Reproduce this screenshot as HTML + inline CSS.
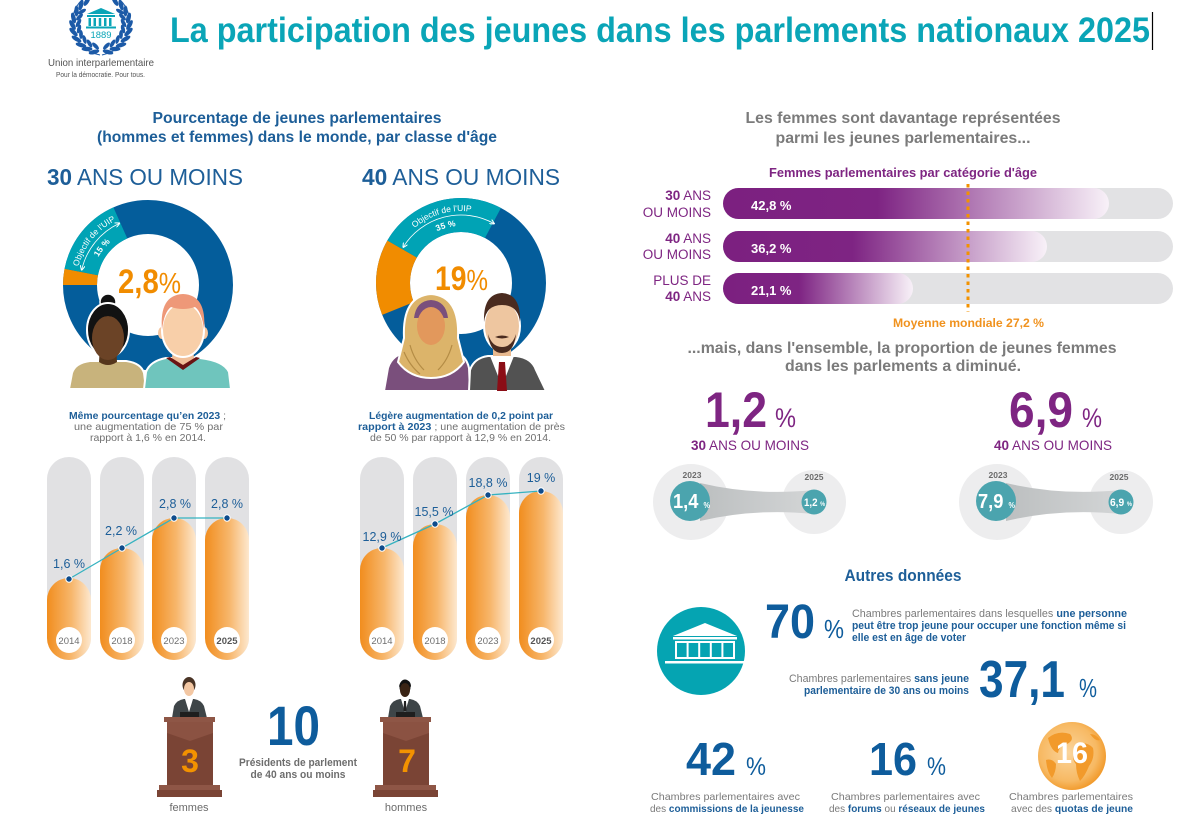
<!DOCTYPE html>
<html><head><meta charset="utf-8"><style>
html,body{margin:0;padding:0;background:#fff;}
svg{display:block;}
text{font-family:"Liberation Sans",Arial,sans-serif;}
</style></head><body>
<svg width="1200" height="831" viewBox="0 0 1200 831" xmlns="http://www.w3.org/2000/svg">
<defs>
 <linearGradient id="og" x1="0" x2="1" y1="0" y2="0"><stop offset="0" stop-color="#f18d1e"/><stop offset="0.55" stop-color="#f7b66b"/><stop offset="1" stop-color="#fde8cf"/></linearGradient>
 <linearGradient id="pg" x1="0" x2="1" y1="0" y2="0"><stop offset="0" stop-color="#7c2080"/><stop offset="0.4" stop-color="#7e2483"/><stop offset="1" stop-color="#f8f1f8"/></linearGradient>
 <linearGradient id="bandg" x1="0" x2="1" y1="0" y2="0"><stop offset="0" stop-color="#bcbfc0"/><stop offset="1" stop-color="#d3d5d6"/></linearGradient>
 <radialGradient id="gg" cx="0.45" cy="0.45" r="0.6"><stop offset="0" stop-color="#fbd59c"/><stop offset="0.7" stop-color="#f7b963"/><stop offset="1" stop-color="#f0931f"/></radialGradient>
 <marker id="ar" viewBox="0 0 6 6" refX="5" refY="3" markerUnits="userSpaceOnUse" markerWidth="5" markerHeight="5" orient="auto-start-reverse"><path d="M0,0 L6,3 L0,6" fill="none" stroke="#fff" stroke-width="1.2"/></marker>
 <path id="t1" d="M76.70,274.98 A72,72 0 0 1 123.38,217.34" fill="none"/>
 <path id="t2" d="M94.44,265.51 A57,57 0 0 1 117.80,236.66" fill="none"/>
 <path id="t3" d="M405.85,236.72 A72,72 0 0 1 483.25,214.52" fill="none"/>
 <path id="t4" d="M432.5,233.64 A57,57 0 0 1 461,226" fill="none"/>
 <g id="leaves" fill="#1c5aa7">
  <ellipse cx="94" cy="52" rx="5.5" ry="2.2" transform="rotate(165 94 52)"/>
  <ellipse cx="87" cy="49" rx="5.5" ry="2.2" transform="rotate(180 87 49)"/>
  <ellipse cx="81" cy="45" rx="5.5" ry="2.2" transform="rotate(195 81 45)"/>
  <ellipse cx="76.5" cy="39" rx="5.5" ry="2.2" transform="rotate(210 76.5 39)"/>
  <ellipse cx="73.5" cy="32" rx="5.5" ry="2.2" transform="rotate(225 73.5 32)"/>
  <ellipse cx="72.5" cy="25" rx="5.5" ry="2.2" transform="rotate(240 72.5 25)"/>
  <ellipse cx="73.5" cy="18" rx="5.5" ry="2.2" transform="rotate(255 73.5 18)"/>
  <ellipse cx="76.5" cy="11" rx="5.5" ry="2.2" transform="rotate(270 76.5 11)"/>
  <ellipse cx="81" cy="5" rx="5.5" ry="2.2" transform="rotate(285 81 5)"/>
  <ellipse cx="87" cy="1" rx="5.5" ry="2.2" transform="rotate(300 87 1)"/>
  <ellipse cx="95.5" cy="46" rx="4.5" ry="1.9" transform="rotate(225 95.5 46)"/>
  <ellipse cx="89.5" cy="43.5" rx="4.5" ry="1.9" transform="rotate(240 89.5 43.5)"/>
  <ellipse cx="84.5" cy="39.5" rx="4.5" ry="1.9" transform="rotate(255 84.5 39.5)"/>
  <ellipse cx="81" cy="34.5" rx="4.5" ry="1.9" transform="rotate(270 81 34.5)"/>
  <ellipse cx="79" cy="29" rx="4.5" ry="1.9" transform="rotate(285 79 29)"/>
  <ellipse cx="78.5" cy="23" rx="4.5" ry="1.9" transform="rotate(300 78.5 23)"/>
  <ellipse cx="79.5" cy="17" rx="4.5" ry="1.9" transform="rotate(315 79.5 17)"/>
  <ellipse cx="82" cy="11.5" rx="4.5" ry="1.9" transform="rotate(330 82 11.5)"/>
  <path d="M100,55 Q76,50 72,25 Q72,8 84,-2" fill="none" stroke="#1c5aa7" stroke-width="1"/>
 </g>
</defs>

<!-- Title -->
<text x="170" y="42" font-size="35" font-weight="bold" fill="#0aa5b7" textLength="980" lengthAdjust="spacingAndGlyphs">La participation des jeunes dans les parlements nationaux 2025</text>
<line x1="1152.5" y1="12" x2="1152.5" y2="50" stroke="#000" stroke-width="1.2"/>

<!-- Logo -->
<use href="#leaves"/>
<use href="#leaves" transform="translate(202,0) scale(-1,1)"/>
<g fill="#0aa5b7">
 <path d="M87,14 L101,8 L115,14 Z"/>
 <rect x="87" y="15" width="28" height="2"/>
 <rect x="88.5" y="18" width="2.5" height="8"/><rect x="93.5" y="18" width="2.5" height="8"/><rect x="98.75" y="18" width="2.5" height="8"/><rect x="104" y="18" width="2.5" height="8"/><rect x="109" y="18" width="2.5" height="8"/>
 <rect x="86" y="26.5" width="30" height="2"/>
</g>
<text x="101" y="38" text-anchor="middle" font-size="9" fill="#0aa5b7" textLength="21" lengthAdjust="spacingAndGlyphs">1889</text>
<text x="48" y="66" font-size="10.5" fill="#555" textLength="106" lengthAdjust="spacingAndGlyphs">Union interparlementaire</text>
<text x="56" y="77" font-size="7" fill="#555" textLength="89" lengthAdjust="spacingAndGlyphs">Pour la démocratie. Pour tous.</text>

<!-- Left subtitle -->
<text x="297" y="123" text-anchor="middle" font-size="16" font-weight="bold" fill="#1d5e98" textLength="289" lengthAdjust="spacingAndGlyphs">Pourcentage de jeunes parlementaires</text>
<text x="297" y="142" text-anchor="middle" font-size="16" font-weight="bold" fill="#1d5e98" textLength="400" lengthAdjust="spacingAndGlyphs">(hommes et femmes) dans le monde, par classe d'âge</text>

<text x="47" y="185" font-size="23" fill="#1d5e98" textLength="196" lengthAdjust="spacingAndGlyphs"><tspan font-weight="bold">30</tspan> ANS OU MOINS</text>
<text x="362" y="185" font-size="23" fill="#1d5e98" textLength="198" lengthAdjust="spacingAndGlyphs"><tspan font-weight="bold">40</tspan> ANS OU MOINS</text>

<!-- Donut 1 -->
<circle cx="148" cy="285" r="68" fill="none" stroke="#045d9b" stroke-width="34"/>
<path d="M80,285 A68,68 0 0 1 81.25,272.03" stroke="#f18c00" stroke-width="34" fill="none"/>
<path d="M81.25,272.03 A68,68 0 0 1 120.34,222.88" stroke="#00a3b5" stroke-width="34" fill="none"/>
<text font-size="8.5" fill="#fff"><textPath href="#t1" startOffset="50%" text-anchor="middle">Objectif de l'UIP</textPath></text>
<text font-size="8.5" fill="#fff" font-weight="bold"><textPath href="#t2" startOffset="50%" text-anchor="middle">15 %</textPath></text>
<path d="M81.74,269.70 A68,68 0 0 1 119.26,223.37" fill="none" stroke="#fff" stroke-width="0.8" marker-start="url(#ar)" marker-end="url(#ar)"/>
<text x="118" y="293" font-size="34" font-weight="bold" fill="#f18c00" textLength="63" lengthAdjust="spacingAndGlyphs">2,8<tspan font-weight="normal" font-size="29">%</tspan></text>

<!-- Donut 1 people -->
<path d="M69,389 L72,373 Q75,363 90,361 L126,361 Q141,363 144,373 L146,389 Z" fill="#c8b37c" stroke="#fff" stroke-width="2"/>
<path d="M100,345 L116,345 L117,362 Q108,368 99,362 Z" fill="#55361c"/>
<circle cx="108" cy="302" r="8" fill="#121212" stroke="#fff" stroke-width="1.5"/>
<ellipse cx="108" cy="330" rx="21" ry="27" fill="#121212" stroke="#fff" stroke-width="2"/>
<ellipse cx="108" cy="338" rx="16" ry="22" fill="#6b4326"/>
<path d="M88,330 Q89,308 108,307 Q127,308 128,330 Q124,317 108,316 Q92,317 88,330 Z" fill="#121212"/>

<path d="M144,389 L146,372 Q150,361 166,358 L200,358 Q224,361 229,372 L231,389 Z" fill="#6fc5bd" stroke="#fff" stroke-width="2"/>
<path d="M173,345 L193,345 L194,359 L183,366 L172,359 Z" fill="#f1c09a"/>
<path d="M166,358 L183,370 L200,358 L196,357 L183,365 L170,357 Z" fill="#6a1414"/>
<ellipse cx="162" cy="333" rx="4" ry="6" fill="#f5c6a0"/>
<ellipse cx="204" cy="333" rx="4" ry="6" fill="#f5c6a0"/>
<ellipse cx="183" cy="330" rx="21" ry="27" fill="#f8cfa9" stroke="#fff" stroke-width="2"/>
<path d="M162,330 Q159,295 183,294 Q207,295 204,330 Q202,312 195,307 Q183,311 171,307 Q164,312 162,330 Z" fill="#ee9878"/>

<!-- Donut 2 -->
<circle cx="461" cy="283" r="68" fill="none" stroke="#045d9b" stroke-width="34"/>
<path d="M397.95,308.47 A68,68 0 0 1 402.11,249" stroke="#f18c00" stroke-width="34" fill="none"/>
<path d="M402.11,249 A68,68 0 0 1 492.93,222.96" stroke="#00a3b5" stroke-width="34" fill="none"/>
<text font-size="8.5" fill="#fff"><textPath href="#t3" startOffset="50%" text-anchor="middle">Objectif de l'UIP</textPath></text>
<text font-size="8.5" fill="#fff" font-weight="bold"><textPath href="#t4" startOffset="50%" text-anchor="middle">35 %</textPath></text>
<path d="M403.34,246.97 A68,68 0 0 1 493.97,223.53" fill="none" stroke="#fff" stroke-width="0.8" marker-start="url(#ar)" marker-end="url(#ar)"/>
<text x="435" y="290" font-size="34" font-weight="bold" fill="#f18c00" textLength="53" lengthAdjust="spacingAndGlyphs">19<tspan font-weight="normal" font-size="29">%</tspan></text>

<!-- Donut 2 people -->
<path d="M384,391 L388,368 Q392,354 410,351 L452,351 Q466,354 469,368 L470,391 Z" fill="#7a4f7c" stroke="#fff" stroke-width="2"/>
<path d="M404,338 Q402,296 431,294 Q460,296 458,338 L464,362 Q452,378 431,378 Q410,378 398,362 Z" fill="#dcb46a" stroke="#fff" stroke-width="2"/>
<path d="M410,345 Q414,360 424,370 M452,345 Q448,360 438,370 M404,352 Q410,366 420,374" fill="none" stroke="#b48c45" stroke-width="1.2"/>
<path d="M414,318 Q416,301 431,300 Q446,301 448,318 Z" fill="#7a4f7c"/>
<ellipse cx="431" cy="326" rx="14" ry="19" fill="#e2985c"/>

<path d="M469,391 L470,370 Q474,358 488,356 L516,356 Q532,358 536,370 L546,391 Z" fill="#525252" stroke="#fff" stroke-width="2"/>
<rect x="493" y="343" width="18" height="15" fill="#e8b98f"/>
<path d="M490,356 L502,386 L514,356 Z" fill="#fff"/>
<path d="M499,362 L505,362 L507,391 L497,391 Z" fill="#8b0d16"/>
<ellipse cx="502" cy="326" rx="18" ry="25" fill="#eec6a0" stroke="#fff" stroke-width="2"/>
<path d="M484,322 Q483,294 502,293 Q521,294 520,322 Q518,305 502,305 Q486,305 484,322 Z" fill="#4a2b1f"/>
<path d="M488,334 Q490,353 502,353 Q514,353 516,334 Q512,347 502,347 Q492,347 488,334 Z" fill="#4a2b1f"/>
<path d="M495,337 Q502,334 509,337 Q502,340 495,337 Z" fill="#4a2b1f"/>

<!-- Text above left bars -->
<text x="69" y="419" font-size="10.5" font-weight="bold" fill="#1d5e98" textLength="157" lengthAdjust="spacingAndGlyphs">Même pourcentage qu’en 2023<tspan font-weight="normal" fill="#6f6f6f"> ;</tspan></text>
<text x="74" y="430" font-size="10.5" fill="#6f6f6f" textLength="149" lengthAdjust="spacingAndGlyphs">une augmentation de 75 % par</text>
<text x="90" y="441" font-size="10.5" fill="#6f6f6f" textLength="116" lengthAdjust="spacingAndGlyphs">rapport à 1,6 % en 2014.</text>

<text x="369" y="419" font-size="10.5" font-weight="bold" fill="#1d5e98" textLength="184" lengthAdjust="spacingAndGlyphs">Légère augmentation de 0,2 point par</text>
<text x="358" y="430" font-size="10.5" fill="#6f6f6f" textLength="207" lengthAdjust="spacingAndGlyphs"><tspan font-weight="bold" fill="#1d5e98">rapport à 2023</tspan> ; une augmentation de près</text>
<text x="370" y="441" font-size="10.5" fill="#6f6f6f" textLength="181" lengthAdjust="spacingAndGlyphs">de 50 % par rapport à 12,9 % en 2014.</text>

<!-- Left bars -->
<g fill="#e1e1e3">
 <rect x="47" y="457" width="44" height="203" rx="22"/>
 <rect x="100" y="457" width="44" height="203" rx="22"/>
 <rect x="152" y="457" width="44" height="203" rx="22"/>
 <rect x="205" y="457" width="44" height="203" rx="22"/>
 <rect x="360" y="457" width="44" height="203" rx="22"/>
 <rect x="413" y="457" width="44" height="203" rx="22"/>
 <rect x="466" y="457" width="44" height="203" rx="22"/>
 <rect x="519" y="457" width="44" height="203" rx="22"/>
</g>
<g fill="url(#og)">
 <rect x="47" y="578" width="44" height="82" rx="22"/>
 <rect x="100" y="548" width="44" height="112" rx="22"/>
 <rect x="152" y="518" width="44" height="142" rx="22"/>
 <rect x="205" y="518" width="44" height="142" rx="22"/>
 <rect x="360" y="548" width="44" height="112" rx="22"/>
 <rect x="413" y="524" width="44" height="136" rx="22"/>
 <rect x="466" y="495" width="44" height="165" rx="22"/>
 <rect x="519" y="491" width="44" height="169" rx="22"/>
</g>
<polyline points="69,579 122,548 174,518 227,518" fill="none" stroke="#35b2c0" stroke-width="1.3"/>
<polyline points="382,548 435,524 488,495 541,491" fill="none" stroke="#35b2c0" stroke-width="1.3"/>
<g fill="#0e4c8c" stroke="#fff" stroke-width="1">
 <circle cx="69" cy="579" r="3.2"/><circle cx="122" cy="548" r="3.2"/><circle cx="174" cy="518" r="3.2"/><circle cx="227" cy="518" r="3.2"/>
 <circle cx="382" cy="548" r="3.2"/><circle cx="435" cy="524" r="3.2"/><circle cx="488" cy="495" r="3.2"/><circle cx="541" cy="491" r="3.2"/>
</g>
<g font-size="12.5" fill="#1d5e98" text-anchor="middle">
 <text x="69" y="568">1,6 %</text>
 <text x="121" y="535">2,2 %</text>
 <text x="175" y="508">2,8 %</text>
 <text x="227" y="508">2,8 %</text>
 <text x="382" y="541">12,9 %</text>
 <text x="434" y="516">15,5 %</text>
 <text x="488" y="487">18,8 %</text>
 <text x="541" y="482">19 %</text>
</g>
<g fill="#fff">
 <circle cx="69" cy="640" r="13"/><circle cx="122" cy="640" r="13"/><circle cx="174" cy="640" r="13"/><circle cx="227" cy="640" r="13"/>
 <circle cx="382" cy="640" r="13"/><circle cx="435" cy="640" r="13"/><circle cx="488" cy="640" r="13"/><circle cx="541" cy="640" r="13"/>
</g>
<g font-size="9.5" fill="#6f6f6f" text-anchor="middle">
 <text x="69" y="644">2014</text><text x="122" y="644">2018</text><text x="174" y="644">2023</text><text x="227" y="644" font-weight="bold" fill="#555">2025</text>
 <text x="382" y="644">2014</text><text x="435" y="644">2018</text><text x="488" y="644">2023</text><text x="541" y="644" font-weight="bold" fill="#555">2025</text>
</g>

<!-- Podiums -->
<g id="pod1">
 <ellipse cx="189" cy="685" rx="6.5" ry="8" fill="#4a3426"/>
 <ellipse cx="189" cy="689" rx="5" ry="7" fill="#f3c7a3"/>
 <path d="M183,686 Q184,678 189,678 Q195,678 195,686 Q192,681 189,681 Q186,681 183,686 Z" fill="#4a3426"/>
 <path d="M172,718 L174,706 Q177,700 184,699 L194,699 Q201,700 204,706 L207,718 Z" fill="#3e4548"/>
 <path d="M185,699 L189,712 L193,699 Z" fill="#fff"/>
 <rect x="180" y="712" width="19" height="5" fill="#1e1e1e"/>
 <rect x="164" y="717" width="51" height="5" fill="#8e5646"/>
 <rect x="167" y="722" width="46" height="63" fill="#7a4435"/>
 <path d="M167,722 L213,722 L213,733 L190,741 L167,733 Z" fill="#8b5242"/>
 <rect x="159" y="785" width="61" height="5" fill="#8e5646"/>
 <rect x="157" y="790" width="65" height="7" fill="#7a4435"/>
</g>
<text x="190" y="772" text-anchor="middle" font-size="32" font-weight="bold" fill="#f39200">3</text>
<text x="189" y="811" text-anchor="middle" font-size="11" fill="#6b6b6b">femmes</text>

<g>
 <ellipse cx="405" cy="687" rx="5.5" ry="7.5" fill="#111"/>
 <ellipse cx="405" cy="690" rx="5" ry="7" fill="#3a2415"/>
 <path d="M399,687 Q400,680 405,680 Q411,680 411,687 Q408,683 405,683 Q402,683 399,687 Z" fill="#111"/>
 <path d="M388,718 L390,706 Q393,700 400,699 L410,699 Q417,700 420,706 L423,718 Z" fill="#3e4548"/>
 <path d="M401,699 L405,712 L409,699 Z" fill="#fff"/>
 <path d="M404,701 L406,701 L406.5,711 L403.5,711 Z" fill="#222"/>
 <rect x="396" y="712" width="19" height="5" fill="#1e1e1e"/>
 <rect x="380" y="717" width="51" height="5" fill="#8e5646"/>
 <rect x="383" y="722" width="46" height="63" fill="#7a4435"/>
 <path d="M383,722 L429,722 L429,733 L406,741 L383,733 Z" fill="#8b5242"/>
 <rect x="375" y="785" width="61" height="5" fill="#8e5646"/>
 <rect x="373" y="790" width="65" height="7" fill="#7a4435"/>
</g>
<text x="407" y="772" text-anchor="middle" font-size="32" font-weight="bold" fill="#f39200">7</text>
<text x="406" y="811" text-anchor="middle" font-size="11" fill="#6b6b6b">hommes</text>

<text x="267" y="745" font-size="56" font-weight="bold" fill="#0e5c9c" textLength="53" lengthAdjust="spacingAndGlyphs">10</text>
<text x="298" y="766" text-anchor="middle" font-size="11" font-weight="bold" fill="#6d6d6d" textLength="118" lengthAdjust="spacingAndGlyphs">Présidents de parlement</text>
<text x="298" y="778" text-anchor="middle" font-size="11" font-weight="bold" fill="#6d6d6d" textLength="95" lengthAdjust="spacingAndGlyphs">de 40 ans ou moins</text>

<!-- Right side heading -->
<text x="903" y="123" text-anchor="middle" font-size="16" font-weight="bold" fill="#7b7b7b" textLength="315" lengthAdjust="spacingAndGlyphs">Les femmes sont davantage représentées</text>
<text x="903" y="143" text-anchor="middle" font-size="16" font-weight="bold" fill="#7b7b7b" textLength="255" lengthAdjust="spacingAndGlyphs">parmi les jeunes parlementaires...</text>
<text x="903" y="177" text-anchor="middle" font-size="12.5" font-weight="bold" fill="#7e2582" textLength="268" lengthAdjust="spacingAndGlyphs">Femmes parlementaires par catégorie d'âge</text>

<g fill="#e2e2e4">
 <rect x="723" y="188" width="450" height="31" rx="15.5"/>
 <rect x="723" y="231" width="450" height="31" rx="15.5"/>
 <rect x="723" y="273" width="450" height="31" rx="15.5"/>
</g>
<rect x="723" y="188" width="386" height="31" rx="15.5" fill="url(#pg)"/>
<rect x="723" y="231" width="324" height="31" rx="15.5" fill="url(#pg)"/>
<rect x="723" y="273" width="190" height="31" rx="15.5" fill="url(#pg)"/>
<g font-size="13" font-weight="bold" fill="#fff">
 <text x="751" y="210">42,8 %</text>
 <text x="751" y="253">36,2 %</text>
 <text x="751" y="295">21,1 %</text>
</g>
<g font-size="13.5" fill="#7e2582" text-anchor="end">
 <text x="711" y="200"><tspan font-weight="bold">30</tspan> ANS</text>
 <text x="711" y="217">OU MOINS</text>
 <text x="711" y="243"><tspan font-weight="bold">40</tspan> ANS</text>
 <text x="711" y="259">OU MOINS</text>
 <text x="711" y="285">PLUS DE</text>
 <text x="711" y="301"><tspan font-weight="bold">40</tspan> ANS</text>
</g>
<line x1="968" y1="184" x2="968" y2="312" stroke="#f39200" stroke-width="3" stroke-dasharray="3.5 4"/>
<text x="893" y="327" font-size="12" font-weight="bold" fill="#f0921e" textLength="151" lengthAdjust="spacingAndGlyphs">Moyenne mondiale 27,2 %</text>

<text x="902" y="353" text-anchor="middle" font-size="16" font-weight="bold" fill="#7b7b7b" textLength="429" lengthAdjust="spacingAndGlyphs">...mais, dans l'ensemble, la proportion de jeunes femmes</text>
<text x="903" y="371" text-anchor="middle" font-size="16" font-weight="bold" fill="#7b7b7b" textLength="236" lengthAdjust="spacingAndGlyphs">dans les parlements a diminué.</text>

<text x="705" y="427" font-size="50" font-weight="bold" fill="#7e2582" textLength="62" lengthAdjust="spacingAndGlyphs">1,2</text>
<text x="775" y="427" font-size="27" fill="#7e2582" textLength="21" lengthAdjust="spacingAndGlyphs">%</text>
<text x="691" y="450" font-size="14" fill="#7e2582" textLength="118" lengthAdjust="spacingAndGlyphs"><tspan font-weight="bold">30</tspan> ANS OU MOINS</text>
<text x="1009" y="427" font-size="50" font-weight="bold" fill="#7e2582" textLength="64" lengthAdjust="spacingAndGlyphs">6,9</text>
<text x="1082" y="427" font-size="27" fill="#7e2582" textLength="20" lengthAdjust="spacingAndGlyphs">%</text>
<text x="994" y="450" font-size="14" fill="#7e2582" textLength="118" lengthAdjust="spacingAndGlyphs"><tspan font-weight="bold">40</tspan> ANS OU MOINS</text>

<!-- Bubbles -->
<g fill="#ededee">
 <circle cx="691" cy="502" r="38"/><circle cx="814" cy="502" r="32"/>
 <circle cx="997" cy="502" r="38"/><circle cx="1121" cy="502" r="32"/>
</g>
<path d="M700,483 Q755,496 814,490 L814,514 Q755,508 700,521 Z" fill="url(#bandg)"/>
<path d="M1006,483 Q1061,496 1121,490 L1121,514 Q1061,508 1006,521 Z" fill="url(#bandg)"/>
<g fill="#4ba4ae">
 <circle cx="690" cy="501" r="20"/><circle cx="814" cy="502" r="12.5"/>
 <circle cx="996" cy="501" r="20"/><circle cx="1121" cy="502" r="12.5"/>
</g>
<g font-size="8.5" font-weight="bold" fill="#6b6b6b" text-anchor="middle">
 <text x="692" y="478">2023</text><text x="814" y="480">2025</text>
 <text x="998" y="478">2023</text><text x="1119" y="480">2025</text>
</g>
<text x="673" y="508" font-size="20" font-weight="bold" fill="#fff" textLength="37" lengthAdjust="spacingAndGlyphs">1,4 <tspan font-size="8">%</tspan></text>
<text x="804" y="506" font-size="11" font-weight="bold" fill="#fff" textLength="21" lengthAdjust="spacingAndGlyphs">1,2 <tspan font-size="6">%</tspan></text>
<text x="978" y="508" font-size="20" font-weight="bold" fill="#fff" textLength="37" lengthAdjust="spacingAndGlyphs">7,9 <tspan font-size="8">%</tspan></text>
<text x="1110" y="506" font-size="11" font-weight="bold" fill="#fff" textLength="22" lengthAdjust="spacingAndGlyphs">6,9 <tspan font-size="6">%</tspan></text>

<!-- Autres données -->
<text x="903" y="581" text-anchor="middle" font-size="17" font-weight="bold" fill="#1d5e98" textLength="117" lengthAdjust="spacingAndGlyphs">Autres données</text>
<circle cx="701" cy="651" r="44" fill="#05a4b2"/>
<g fill="#fff">
 <path d="M673,636 L705,623 L737,636 Z"/>
 <rect x="673" y="637" width="64" height="2.5"/>
 <rect x="665" y="661" width="80" height="2.5"/>
</g>
<g fill="none" stroke="#fff" stroke-width="2">
 <rect x="676" y="642" width="58" height="16"/>
 <line x1="687.6" y1="642" x2="687.6" y2="658"/><line x1="699.2" y1="642" x2="699.2" y2="658"/><line x1="710.8" y1="642" x2="710.8" y2="658"/><line x1="722.4" y1="642" x2="722.4" y2="658"/>
</g>

<text x="765" y="638" font-size="48" font-weight="bold" fill="#0e5c9c" textLength="50" lengthAdjust="spacingAndGlyphs">70</text>
<text x="824" y="638" font-size="26" fill="#0e5c9c" textLength="20" lengthAdjust="spacingAndGlyphs">%</text>
<text x="852" y="617" font-size="11" fill="#7a7a7a" textLength="275" lengthAdjust="spacingAndGlyphs">Chambres parlementaires dans lesquelles <tspan font-weight="bold" fill="#1d5e98">une personne</tspan></text>
<text x="852" y="629" font-size="11" font-weight="bold" fill="#1d5e98" textLength="274" lengthAdjust="spacingAndGlyphs">peut être trop jeune pour occuper une fonction même si</text>
<text x="852" y="641" font-size="11" font-weight="bold" fill="#1d5e98" textLength="114" lengthAdjust="spacingAndGlyphs">elle est en âge de voter</text>

<text x="789" y="682" font-size="11" fill="#7a7a7a" textLength="180" lengthAdjust="spacingAndGlyphs">Chambres parlementaires <tspan font-weight="bold" fill="#1d5e98">sans jeune</tspan></text>
<text x="804" y="694" font-size="11" font-weight="bold" fill="#1d5e98" textLength="165" lengthAdjust="spacingAndGlyphs">parlementaire de 30 ans ou moins</text>
<text x="979" y="697" font-size="52" font-weight="bold" fill="#0e5c9c" textLength="86" lengthAdjust="spacingAndGlyphs">37,1</text>
<text x="1079" y="697" font-size="26" fill="#0e5c9c" textLength="18" lengthAdjust="spacingAndGlyphs">%</text>

<text x="686" y="775" font-size="46" font-weight="bold" fill="#0e5c9c" textLength="50" lengthAdjust="spacingAndGlyphs">42</text>
<text x="746" y="775" font-size="25" fill="#0e5c9c" textLength="20" lengthAdjust="spacingAndGlyphs">%</text>
<text x="651" y="800" font-size="10.5" fill="#7a7a7a" textLength="149" lengthAdjust="spacingAndGlyphs">Chambres parlementaires avec</text>
<text x="650" y="812" font-size="10.5" fill="#7a7a7a" textLength="154" lengthAdjust="spacingAndGlyphs">des <tspan font-weight="bold" fill="#1d5e98">commissions de la jeunesse</tspan></text>

<text x="869" y="775" font-size="46" font-weight="bold" fill="#0e5c9c" textLength="48" lengthAdjust="spacingAndGlyphs">16</text>
<text x="927" y="775" font-size="25" fill="#0e5c9c" textLength="19" lengthAdjust="spacingAndGlyphs">%</text>
<text x="831" y="800" font-size="10.5" fill="#7a7a7a" textLength="149" lengthAdjust="spacingAndGlyphs">Chambres parlementaires avec</text>
<text x="829" y="812" font-size="10.5" fill="#7a7a7a" textLength="156" lengthAdjust="spacingAndGlyphs">des <tspan font-weight="bold" fill="#1d5e98">forums</tspan> ou <tspan font-weight="bold" fill="#1d5e98">réseaux de jeunes</tspan></text>

<circle cx="1072" cy="756" r="34" fill="url(#gg)"/>
<g fill="#f29a2b">
 <path d="M1048,738 q10,-8 22,-4 q5,6 -3,10 q-8,2 -9,9 q-7,-2 -10,-15z"/>
 <path d="M1076,744 q11,-3 17,4 q2,10 -4,18 q-4,10 -9,15 q-4,-8 -4,-17 q-6,-6 0,-20z"/>
 <path d="M1046,760 q6,-2 10,4 q0,8 -4,14 q-5,-6 -6,-18z"/>
 <path d="M1090,734 q6,0 10,6 q-4,2 -10,-6z"/>
</g>
<text x="1072" y="763" text-anchor="middle" font-size="30" font-weight="bold" fill="#fff" textLength="32" lengthAdjust="spacingAndGlyphs">16</text>
<text x="1009" y="800" font-size="10.5" fill="#7a7a7a" textLength="124" lengthAdjust="spacingAndGlyphs">Chambres parlementaires</text>
<text x="1011" y="812" font-size="10.5" fill="#7a7a7a" textLength="122" lengthAdjust="spacingAndGlyphs">avec des <tspan font-weight="bold" fill="#1d5e98">quotas de jeune</tspan></text>
</svg>
</body></html>
